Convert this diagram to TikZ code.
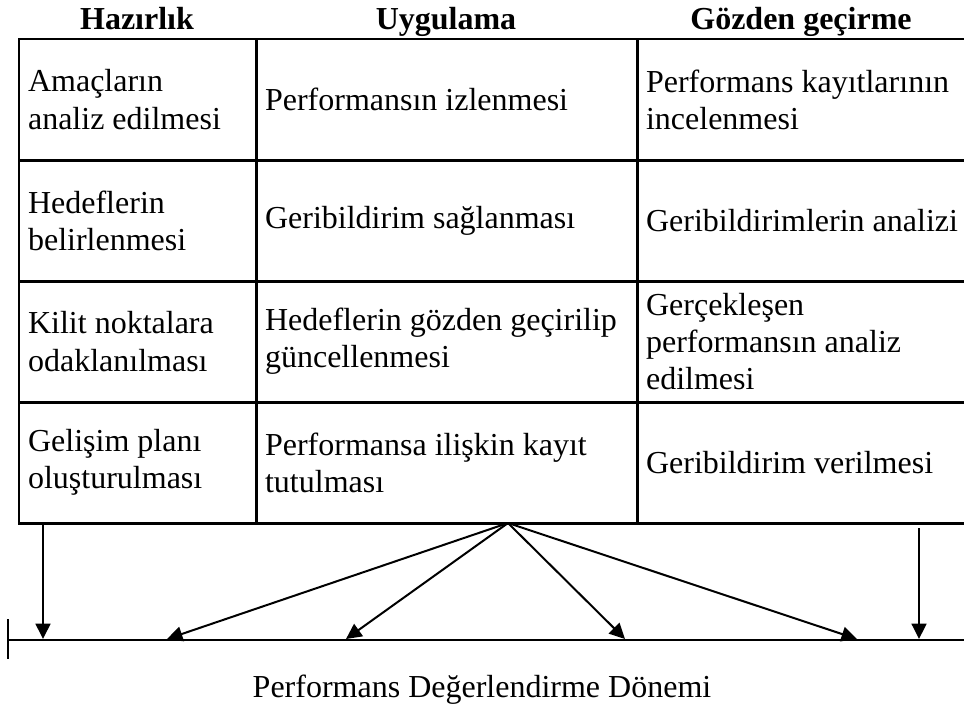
\documentclass[tikz,border=0pt]{standalone}
\usepackage{fontspec}
\setmainfont{Liberation Serif}
\usetikzlibrary{arrows.meta, positioning}

\begin{document}
\begin{tikzpicture}[x=0.375pt, y=-0.375pt,
	cell/.style={draw, line width=1.1pt, anchor=north west, inner xsep=3.4pt, inner ysep=0pt, outer sep=0pt, align=flush left, minimum height=45.4pt, font=\fontsize{12}{13.9}\selectfont},
	colA/.style={cell, text width=82.1pt},
	colB/.style={cell, text width=136.1pt},
	colC/.style={cell, text width=120.7pt},
	head/.style={anchor=base, font=\fontsize{12}{14}\selectfont\bfseries},
	>={Triangle[length=5.8pt, width=5.6pt]}]
	\useasboundingbox (0, 0) rectangle (964, 710);
	\node[head] (hazirlik) at (137, 29) {Hazırlık};
	\node[head] (uygulama) at (446, 29) {Uygulama};
	\node[head] (gozden) at (801, 29) {Gözden geçirme};
	% rows
	\node[colA] (a1) at (19, 39) {Amaçların\\analiz edilmesi};
	\node[colB] (b1) at (256, 39) {Performansın izlenmesi};
	\node[colC] (c1) at (637, 39) {Performans kayıtlarının\\incelenmesi};
	\node[colA] (a2) at (19, 160) {Hedeflerin\\belirlenmesi};
	\node[colB] (b2) at (256, 160) {Geribildirim sağlanması};
	\node[colC] (c2) at (637, 160) {Geribildirimlerin analizi};
	\node[colA] (a3) at (19, 281) {Kilit noktalara\\odaklanılması};
	\node[colB] (b3) at (256, 281) {Hedeflerin gözden geçirilip\\güncellenmesi};
	\node[colC] (c3) at (637, 281) {Gerçekleşen\\performansın analiz\\edilmesi};
	\node[colA] (a4) at (19, 402) {Gelişim planı\\oluşturulması};
	\node[colB] (b4) at (256, 402) {Performansa ilişkin kayıt\\tutulması};
	\node[colC] (c4) at (637, 402) {Geribildirim verilmesi};
	% timeline
	\coordinate (start) at (8, 640);
	\coordinate (end) at (964, 640);
	\draw[line width=1pt] (start) -- (end);
	\draw[line width=0.8pt] (8, 619) -- (8, 659);
	\coordinate (fan) at (508, 523);
	\coordinate (left) at (43, 523);
	\coordinate (right) at (919, 528);
	\foreach \n/\x in {t1/167, t2/346, t3/625, t4/857}
		\coordinate (\n) at (\x, 639);
	\draw[->, line width=0.75pt] (left) -- (43, 639);
	\draw[->, line width=0.75pt] (right) -- (919, 639);
	\foreach \n in {t1, t2, t3, t4}
		\draw[->, line width=0.75pt] (fan) -- (\n);
	\node[anchor=base, font=\fontsize{12}{14}\selectfont] (donem) at (482, 697) {Performans Değerlendirme Dönemi};
\end{tikzpicture}
\end{document}
